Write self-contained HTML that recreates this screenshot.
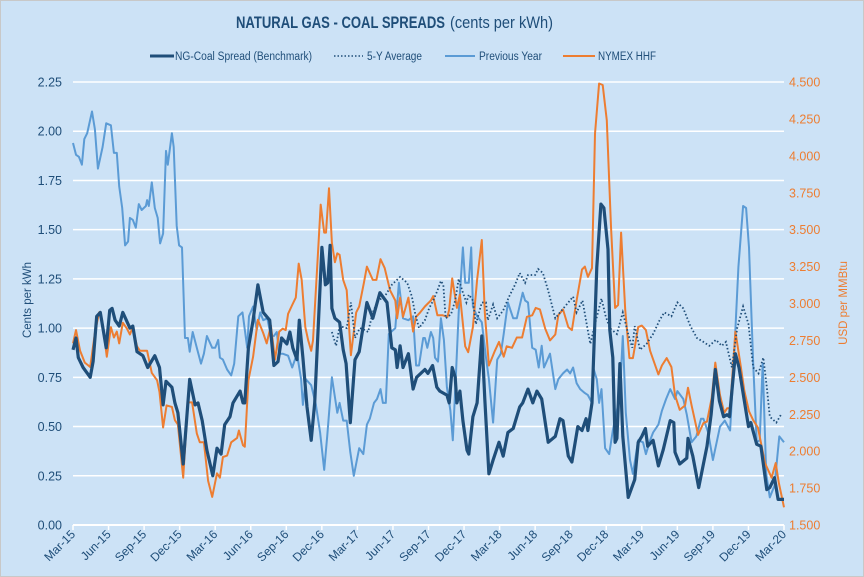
<!DOCTYPE html>
<html><head><meta charset="utf-8"><style>
html,body{margin:0;padding:0;background:#cce2f6;}
svg{display:block;font-family:"Liberation Sans",sans-serif;}
</style></head><body>
<svg id="chart" width="864" height="577" viewBox="0 0 864 577">
<rect x="0.5" y="0.5" width="863" height="576" fill="#cce2f6" stroke="#c8c8c8"/>
<text x="236" y="28" font-size="17" font-weight="bold" fill="#1f4e79" textLength="209" lengthAdjust="spacingAndGlyphs">NATURAL GAS - COAL SPREADS</text>
<text x="450" y="28" font-size="17" fill="#1f4e79" textLength="103" lengthAdjust="spacingAndGlyphs">(cents per kWh)</text>
<g id="legend" font-size="11.5" fill="#1f4e79">
 <g><line x1="150" y1="56" x2="174" y2="56" stroke="#1f4e79" stroke-width="3"/><text x="175" y="60" textLength="137" lengthAdjust="spacingAndGlyphs">NG-Coal Spread (Benchmark)</text></g>
 <g><line x1="334" y1="56" x2="363" y2="56" stroke="#1f4e79" stroke-width="1.5" stroke-dasharray="1.5,2"/><text x="367" y="60" textLength="55" lengthAdjust="spacingAndGlyphs">5-Y Average</text></g>
 <g><line x1="445" y1="56" x2="475" y2="56" stroke="#5b9bd5" stroke-width="2"/><text x="479" y="60" textLength="63" lengthAdjust="spacingAndGlyphs">Previous Year</text></g>
 <g><line x1="563" y1="56" x2="595" y2="56" stroke="#ed7d31" stroke-width="2"/><text x="598" y="60" textLength="58" lengthAdjust="spacingAndGlyphs">NYMEX HHF</text></g>
</g>
<g id="grid"></g><g id="axes"></g><g id="series"></g>
<text transform="translate(31,300) rotate(-90)" text-anchor="middle" font-size="11.5" fill="#1f4e79">Cents per kWh</text>
<text transform="translate(847,303) rotate(-90)" text-anchor="middle" font-size="11.5" fill="#ed7d31">USD per MMBtu</text>
</svg>
<script>
const xTickLabels=["Mar-15","Jun-15","Sep-15","Dec-15","Mar-16","Jun-16","Sep-16","Dec-16","Mar-17","Jun-17","Sep-17","Dec-17","Mar-18","Jun-18","Sep-18","Dec-18","Mar-19","Jun-19","Sep-19","Dec-19","Mar-20"];
const leftTicks=[0,0.25,0.5,0.75,1,1.25,1.5,1.75,2,2.25];
const rightTicks=[1.5,1.75,2,2.25,2.5,2.75,3,3.25,3.5,3.75,4,4.25,4.5];
const benchT=[0,.25,.45,.85,1.45,1.7,2,2.3,2.8,3.1,3.3,3.55,3.9,4.2,4.8,5.05,5.4,5.9,6.3,6.9,7.3,7.6,7.85,8.35,8.6,8.85,9.3,9.85,10.3,10.55,10.9,11.3,11.8,12.15,12.5,12.8,13.25,13.5,14.1,14.35,14.5,14.8,15.2,15.6,16.05,16.6,16.95,17.3,17.6,18.05,18.3,18.55,18.9,19.1,19.4,19.75,20.1,20.4,21,21.3,21.5,21.7,21.85,22.1,22.5,22.8,23.05,23.4,23.8,24.15,24.8,25.3,25.9,26.5,26.9,27.2,27.35,27.6,27.85,28.3,28.7,29,29.7,29.95,30.35,30.7,30.95,31.55,31.75,32,32.25,32.4,32.65,32.9,33.25,33.4,33.75,34.1,34.5,34.75,35.1,35.45,35.95,36.3,36.7,37.15,37.7,37.95,38.4,38.8,39.15,39.55,40.1,40.7,41.1,41.35,41.8,42.1,42.6,42.95,43.3,43.45,43.8,44.2,44.55,44.8,45.15,45.3,45.55,45.75,45.9,46.15,46.4,46.85,47.4,47.7,48,48.3,48.5,48.95,49.4,49.8,50.4,50.7,50.8,51.2,51.8,51.9,52.3,52.8,53.2,53.5,53.85,54.2,54.55,54.9,55.2,55.4,55.9,56.2,56.6,57,57.2,57.7,58.05,58.55,58.8,59.2,59.5,60];
const benchV=[.89,.95,.85,.80,.75,.83,1.06,1.08,.90,1.09,1.10,1.04,1.01,1.08,1.00,1.01,.88,.86,.80,.86,.80,.61,.73,.70,.62,.57,.31,.74,.61,.62,.53,.38,.25,.39,.36,.51,.55,.62,.68,.62,.62,.90,1.04,1.22,1.08,1.04,.81,.83,.95,.92,.98,.90,.84,1.04,.85,.60,.43,.62,1.41,1.22,1.23,1.42,1.10,1.05,1.03,.89,.82,.52,.84,.88,1.13,1.05,1.18,1.13,.90,.89,.80,.91,.80,.87,.69,.75,.79,.77,.81,.70,.68,.66,.62,.80,.75,.62,.68,.53,.38,.36,.55,.62,.96,.64,.26,.33,.42,.35,.47,.49,.60,.62,.69,.62,.68,.64,.42,.45,.54,.53,.35,.32,.50,.48,.54,.48,.62,1.31,1.63,1.61,1.40,.99,.85,.42,.44,.82,.45,.14,.23,.42,.45,.49,.40,.43,.30,.38,.53,.52,.37,.31,.34,.44,.35,.19,.31,.40,.56,.79,.63,.55,.56,.55,.87,.80,.65,.50,.52,.41,.40,.18,.19,.24,.13,.13];
const avgT=[21.85,22.2,22.5,23.1,23.45,23.8,24.2,24.65,24.9,25.3,25.75,26.3,26.9,27.6,28.2,28.6,28.85,29.2,29.7,30.05,30.4,30.75,31.05,31.25,31.45,31.9,32.25,32.55,32.9,33.2,33.4,33.75,34,34.5,34.85,35,35.45,35.8,36.3,36.8,37.3,37.7,38.15,38.4,39,39.25,39.65,40.1,40.7,41.1,41.65,42.2,42.5,43,43.35,43.65,44.05,44.6,44.95,45.3,45.9,46.4,46.85,47.2,47.4,47.85,48.4,48.95,49.5,49.9,50.5,51,51.5,52.1,52.65,53.2,53.7,54.25,54.75,55.1,55.6,56.05,56.55,57,57.4,57.85,58.25,58.55,58.8,59.35,59.75];
const avgV=[.98,.91,1.01,1.00,1.13,.95,1.00,.99,.98,1.08,1.14,1.16,1.22,1.26,1.23,1.16,1.08,1.00,1.04,1.10,1.14,1.19,1.24,1.22,1.05,1.07,1.14,1.25,1.18,1.13,1.17,1.14,1.02,1.13,1.13,1.04,1.12,1.05,1.09,1.16,1.22,1.28,1.23,1.27,1.27,1.30,1.28,1.19,1.05,1.08,1.12,1.16,1.08,1.14,1.02,.92,1.02,1.15,1.06,1.00,.97,1.08,.97,.90,1.01,.89,.92,.97,1.04,1.08,1.06,1.13,1.10,1.01,.95,.93,.91,.94,.91,.93,.80,1.00,1.11,1.02,.80,.77,.85,.70,.55,.52,.56];
const prevT=[0,.25,.5,.75,.95,1.2,1.6,1.85,2.1,2.5,2.8,3.2,3.45,3.7,3.9,4.15,4.4,4.65,4.8,5.05,5.3,5.55,5.8,6.15,6.25,6.4,6.65,6.9,7.15,7.35,7.6,7.85,8,8.35,8.5,8.75,8.95,9.2,9.45,9.7,9.85,10.1,10.45,10.8,11.05,11.3,11.75,12,12.25,12.4,12.65,13,13.35,13.6,13.95,14.3,14.7,14.85,15.2,15.5,15.8,16.05,16.4,16.7,16.95,17.2,17.4,17.7,18.15,18.5,18.9,19.25,19.4,19.65,20.1,20.5,20.85,21.2,21.45,21.85,22.1,22.3,22.5,22.8,23.1,23.4,23.7,24.15,24.5,24.8,25.05,25.4,25.65,25.95,26.15,26.4,26.65,27.2,27.5,27.85,28.3,28.7,28.95,29.2,29.55,29.7,29.9,30.2,30.4,30.55,30.8,31.05,31.3,31.55,31.85,32.05,32.3,32.55,32.9,33.1,33.4,33.6,33.75,34.1,34.5,34.85,35.1,35.45,35.8,36.1,36.35,36.7,37.15,37.45,37.95,38.15,38.4,38.75,39.05,39.3,39.55,39.75,40.25,40.7,40.95,41.35,41.7,41.95,42.2,42.5,42.8,43.2,43.45,43.8,43.9,44.2,44.4,44.6,44.9,45.25,45.55,45.9,46.15,46.4,46.65,47,47.25,47.7,48.1,48.35,48.7,48.95,49.4,49.7,50.05,50.4,50.8,51,51.5,51.8,52.2,52.6,53,53.2,53.6,54,54.6,55,55.45,55.7,56.15,56.55,56.8,57.05,57.4,57.7,57.95,58.2,58.5,58.8,59.2,59.6,60];
const prevV=[1.94,1.88,1.87,1.83,1.96,1.99,2.10,2.01,1.81,1.92,2.04,2.03,1.89,1.89,1.72,1.61,1.42,1.44,1.56,1.55,1.51,1.63,1.60,1.62,1.65,1.62,1.74,1.61,1.56,1.43,1.48,1.90,1.83,1.99,1.92,1.52,1.42,1.41,.95,.95,.88,.98,.90,.82,.87,.96,.90,.90,.94,.85,.84,.79,.76,.82,1.06,1.08,.90,1.06,1.11,.99,1.08,1.04,1.05,.96,.96,.98,.87,.87,.86,.80,.87,.74,.61,.74,.71,.61,.47,.28,.45,.75,.65,.57,.62,.53,.53,.37,.25,.39,.36,.51,.54,.62,.64,.69,.62,.62,.97,1.00,1.23,1.05,1.04,1.06,.81,.81,.95,.95,.90,.98,.95,.85,.83,1.05,.94,.70,.58,.43,.75,1.08,1.41,1.23,1.23,1.41,1.11,1.06,1.03,.85,.74,.52,.84,.87,.97,1.13,1.05,1.05,1.18,1.14,1.13,.90,.89,.80,.91,.80,.87,.69,.74,.77,.79,.77,.80,.72,.69,.67,.66,.62,.80,.74,.62,.69,.39,.36,.48,.58,.67,.96,.57,.33,.26,.43,.42,.36,.43,.47,.51,.58,.64,.69,.64,.68,.64,.56,.42,.45,.54,.54,.47,.33,.50,.53,.48,.74,1.31,1.62,1.61,1.41,.82,.42,.43,.82,.26,.14,.20,.45,.42];
const nymexT=[0,.25,.6,1,1.45,1.85,2.2,2.45,2.85,3.2,3.45,3.7,3.9,4.2,4.55,4.8,5.05,5.4,5.65,6.25,6.65,7.1,7.3,7.6,7.9,8.35,8.6,8.85,9.3,9.7,10.05,10.45,10.7,11.05,11.4,11.75,12.15,12.4,12.65,13,13.35,13.85,14,14.35,14.5,14.8,15.2,15.6,16.05,16.35,16.7,17.05,17.4,17.7,17.95,18.15,18.5,18.8,19.05,19.3,19.6,19.85,20.1,20.25,20.7,20.9,21.2,21.35,21.6,21.85,22.1,22.3,22.5,22.8,23.1,23.45,23.9,24.15,24.55,24.8,25.3,25.6,25.95,26.3,26.75,27.2,27.35,27.6,27.85,28.3,28.7,28.95,29.3,29.7,30.2,30.4,30.75,31.2,31.6,31.75,32,32.4,32.65,33.1,33.35,33.75,34.1,34.5,34.75,35.1,35.6,35.95,36.35,36.6,37.05,37.45,37.9,38.3,38.75,39.05,39.4,39.85,40.25,40.7,40.95,41.35,41.8,42.1,42.5,42.95,43.2,43.45,43.8,44.05,44.4,44.7,45.05,45.4,45.75,46,46.25,46.6,46.95,47.25,47.7,48,48.35,48.7,49.4,49.7,50.1,50.5,50.8,51.2,51.65,51.9,52.2,52.75,53.2,53.5,53.9,54.2,54.6,54.95,55.2,55.45,55.9,56.3,56.65,57.05,57.4,57.8,58.4,58.95,59.3,59.55,60];
const nymexV=[2.73,2.82,2.68,2.60,2.57,2.80,2.94,2.89,2.64,2.84,2.77,2.81,2.73,2.87,2.83,2.79,2.84,2.71,2.68,2.68,2.53,2.48,2.40,2.16,2.31,2.30,2.21,2.18,1.82,2.33,2.33,2.12,2.06,2.06,1.80,1.69,1.85,1.82,1.96,1.97,2.06,2.09,2.14,2.04,2.03,2.48,2.64,2.89,2.80,2.73,2.85,2.62,2.81,2.83,2.82,2.93,2.99,3.04,3.27,3.16,2.84,2.75,2.68,2.75,3.38,3.67,3.48,3.48,3.78,3.41,3.28,3.34,3.33,3.16,3.09,2.65,2.94,2.98,3.14,3.25,3.16,3.16,3.30,3.24,3.09,3.02,2.90,3.04,2.91,3.04,2.81,2.91,2.94,2.98,3.02,3.05,2.92,2.92,2.91,2.96,3.17,2.97,3.06,2.71,2.67,2.84,3.16,3.43,2.94,2.58,2.68,2.74,2.64,2.71,2.70,2.77,2.77,2.91,2.92,2.97,2.96,2.83,2.75,2.79,2.92,2.96,2.84,2.82,3.02,3.23,3.25,3.18,3.24,4.15,4.49,4.48,4.24,3.52,2.97,2.99,3.48,2.96,2.63,2.63,2.84,2.85,2.82,2.68,2.52,2.58,2.63,2.57,2.38,2.28,2.31,2.43,2.31,2.11,2.19,2.20,2.36,2.60,2.38,2.26,2.29,2.29,2.81,2.60,2.41,2.27,2.21,2.16,1.92,1.82,1.92,1.79,1.62];

const NS="http://www.w3.org/2000/svg";
const X0=73,X1=784,Y0=525,YT=82;
function xScale(t){return X0+t*(X1-X0)/60;}
function yLeft(v){return Y0-v*(Y0-YT)/2.25;}
function yRight(v){return Y0-(v-1.5)*(Y0-YT)/3;}
function mk(tag,attrs,parent){const e=document.createElementNS(NS,tag);for(const k in attrs)e.setAttribute(k,attrs[k]);parent.appendChild(e);return e;}
const grid=document.getElementById('grid'),axes=document.getElementById('axes'),series=document.getElementById('series');
leftTicks.forEach(v=>{
  if(v>0){const g=mk('line',{x1:X0,x2:X1,y1:yLeft(v),y2:yLeft(v),stroke:'#ffffff','stroke-width':1.5},grid);
  
  }
  const t=mk('text',{x:62,y:yLeft(v)+4.5,'text-anchor':'end','font-size':12.5,fill:'#1f4e79'},axes);
  t.textContent=v.toFixed(2);
  
  
});
rightTicks.forEach(v=>{
  const t=mk('text',{x:789,y:yRight(v)+4.5,'font-size':12.5,fill:'#ed7d31'},axes);
  t.textContent=v.toFixed(3);
  
  
});
const ax=mk('line',{x1:X0,x2:X1,y1:Y0,y2:Y0,stroke:'#ffffff','stroke-width':2},axes);


xTickLabels.forEach((l,i)=>{
  const x=xScale(i*3);
  const tk=mk('line',{x1:x,x2:x,y1:Y0,y2:Y0+5,stroke:'#ffffff','stroke-width':1.5},axes);
  
  
  const t=mk('text',{transform:`translate(${x+3},${Y0+10}) rotate(-45)`,'text-anchor':'end','font-size':12,fill:'#1f4e79'},axes);
  t.textContent=l;
  
  
});
function path(T,V,ys){return T.map((t,i)=>(i?'L':'M')+xScale(t).toFixed(1)+','+ys(V[i]).toFixed(1)).join(' ');}
const p1=mk('path',{d:path(prevT,prevV,yLeft),fill:'none',stroke:'#5b9bd5','stroke-width':2,'stroke-linejoin':'round'},series);


const p2=mk('path',{d:path(nymexT,nymexV,yRight),fill:'none',stroke:'#ed7d31','stroke-width':2,'stroke-linejoin':'round'},series);


const p3=mk('path',{d:path(avgT,avgV,yLeft),fill:'none',stroke:'#1f4e79','stroke-width':1.8,'stroke-dasharray':'1.5,2.2'},series);


const p4=mk('path',{d:path(benchT,benchV,yLeft),fill:'none',stroke:'#1f4e79','stroke-width':3.2,'stroke-linejoin':'round'},series);


</script>
</body></html>
